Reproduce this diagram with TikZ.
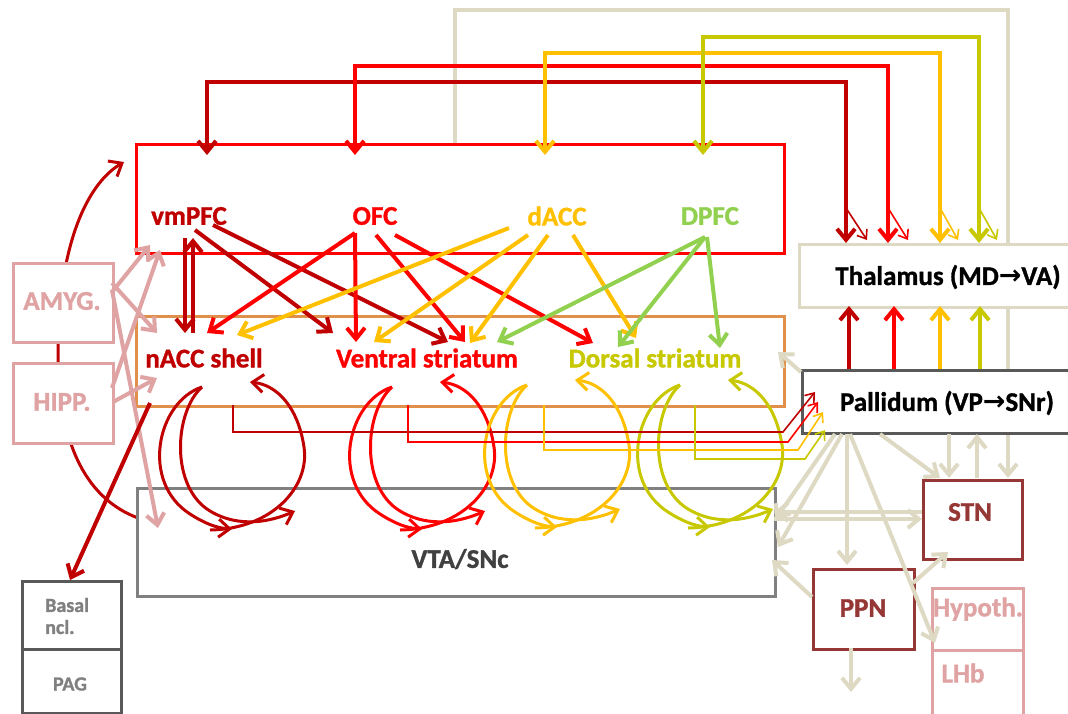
\documentclass[tikz,border=0pt]{standalone}
\usepackage{fontspec}
\setmainfont{Carlito}[BoldFeatures={FakeBold=1.2}]
\newfontfamily\dejavu{DejaVu Sans}
\usetikzlibrary{arrows.meta}
\pgfdeclarelayer{bg}
\pgfsetlayers{bg,main}
\definecolor{cdr}{HTML}{C00000}
\definecolor{cr}{HTML}{FF0000}
\definecolor{co}{HTML}{FFC000}
\definecolor{col}{HTML}{C8C800}
\definecolor{cg}{HTML}{92D050}
\definecolor{cbe}{HTML}{DDD9C3}
\definecolor{cpk}{HTML}{E0A3A3}
\definecolor{cbr}{HTML}{953735}
\definecolor{cst}{HTML}{E0904A}
\definecolor{cgy}{HTML}{808080}
\definecolor{cdg}{HTML}{595959}
\definecolor{ctxt}{HTML}{404040}
\tikzset{
  bx/.style={draw, fill=white, anchor=north west, inner sep=0pt},
  lbl/.style={font=\bfseries\fontsize{27}{32}\selectfont, inner sep=0pt},
  arr/.style={-{Straight Barb[length=11pt,width=18pt]}},
  arrb/.style={{Straight Barb[length=11pt,width=18pt]}-{Straight Barb[length=11pt,width=18pt]}},
  arrs/.style={-{Straight Barb[length=8pt,width=12pt]}},
  fat/.style={line width=4pt},
  mid/.style={line width=3pt},
  thn/.style={line width=1.6pt},
}
\begin{document}
\begin{tikzpicture}[x=1pt,y=-1pt]
\useasboundingbox (0,0) rectangle (1068,713);
\clip (0,0) rectangle (1068,713);

% ---------- background connectors ----------
\begin{pgfonlayer}{bg}
\fill[white] (0,0) rectangle (1068,713);
\draw[cbe, fat, arr] (455,143) coordinate (gtop) -- (455,10) -- (1008,10) -- (1008,478) coordinate (gend);
\draw[cdr, mid, arr] (138,518) coordinate (arcs) .. controls (90,500) and (58,450) .. (58,352)
   .. controls (58,250) and (85,185) .. (124,162) coordinate (arce);
\end{pgfonlayer}

% ---------- boxes ----------
\node[bx, draw=cr, line width=2.5pt, minimum width=648pt, minimum height=109pt, fill=none] (cortex) at (135,143) {};
\node[bx, draw=cst, line width=2.5pt, minimum width=648pt, minimum height=90pt, fill=none] (striatum) at (135,315) {};
\node[bx, draw=cgy, line width=2.5pt, minimum width=638pt, minimum height=108pt, fill=none] (vta) at (136,487) {};
\node[bx, draw=cbe, line width=3pt, minimum width=290pt, minimum height=63pt] (thal) at (798,243) {};
\node[bx, draw=cdg, line width=3pt, minimum width=290pt, minimum height=63pt] (pall) at (801,369) {};
\node[bx, draw=cbr, line width=3pt, minimum width=99pt, minimum height=79pt] (stnbox) at (922,479) {};
\node[bx, draw=cbr, line width=3pt, minimum width=101pt, minimum height=80pt] (ppnbox) at (812,568) {};
\node[bx, draw=cpk, line width=2.5pt, minimum width=91pt, minimum height=62pt] (hypbox) at (931,587) {};
\node[bx, draw=cpk, line width=2.5pt, minimum width=91pt, minimum height=66pt] (lhbbox) at (931,649) {};
\node[bx, draw=cpk, line width=3pt, minimum width=100pt, minimum height=79pt] (amybox) at (12,262) {};
\node[bx, draw=cpk, line width=3pt, minimum width=100pt, minimum height=80pt] (hipbox) at (12,362) {};
\node[bx, draw=cdg, line width=3pt, minimum width=99pt, minimum height=68pt] (basbox) at (21,580) {};
\node[bx, draw=cdg, line width=3pt, minimum width=99pt, minimum height=64pt] (pagbox) at (21,648) {};

% ---------- labels ----------
\node[lbl, text=cdr] (vmPFC) at (189,216) {vmPFC};
\node[lbl, text=cr] (OFC) at (375,216) {OFC};
\node[lbl, text=co] (dACC) at (557,216) {dACC};
\node[lbl, text=cg] (DPFC) at (710,216) {DPFC};
\node[lbl, text=cdr] (nacc) at (204,358) {nACC shell};
\node[lbl, text=cr] (vs) at (427,358) {Ventral striatum};
\node[lbl, text=col] (ds) at (655,358) {Dorsal striatum};
\node[lbl, text=ctxt] (vtal) at (460,559) {VTA/SNc};
\node[lbl, text=black] (thall) at (948,277) {Thalamus (MD{\dejavu\bfseries →}VA)};
\node[lbl, text=black] (palll) at (947,403) {Pallidum (VP{\dejavu\bfseries →}SNr)};
\node[lbl, text=cbr] (stn) at (970,512) {STN};
\node[lbl, text=cbr] (ppn) at (863,608) {PPN};
\node[lbl, text=cpk] (hyp) at (978,609) {Hypoth.};
\node[lbl, text=cpk] (lhb) at (963,673) {LHb};
\node[lbl, text=cpk] (amy) at (62,301) {AMYG.};
\node[lbl, text=cpk] (hip) at (62,402) {HIPP.};
\node[font=\bfseries\fontsize{20}{22}\selectfont, text=cgy, align=left, inner sep=0pt, anchor=west] (bas) at (45,616) {Basal\\ncl.};
\node[font=\bfseries\fontsize{20}{22}\selectfont, text=cgy, inner sep=0pt] (pag) at (70,684) {PAG};

% ---------- thalamo-cortical routed arrows ----------
\draw[cdr, fat, arrb] (207,155) -- (207,82) -- (846,82) -- (846,243);
\draw[cr, fat, arrb] (355,155) -- (355,66) -- (888,66) -- (888,243);
\draw[co, fat, arrb] (545,155) -- (545,53) -- (940,53) -- (940,243);
\draw[col, fat, arrb] (703,155) -- (703,37) -- (979,37) -- (979,243);
\draw[cdr, thn, arrs] (846,208) -- (867,240);
\draw[cr, thn, arrs] (888,208) -- (908,240);
\draw[co, thn, arrs] (940,208) -- (958,240);
\draw[col, thn, arrs] (979,208) -- (997,240);

% ---------- pallidum -> thalamus ----------
\draw[cdr, fat, arr] (849,369) -- (849,306);
\draw[cr, fat, arr] (894,369) -- (894,306);
\draw[co, fat, arr] (940,369) -- (940,306);
\draw[col, fat, arr] (980,369) -- (980,306);

% ---------- cortex -> striatum ----------
\draw[cdr, fat, arr] (185,238) -- (185,333);
\draw[cdr, fat, arr] (193,333) -- (193,238);
\draw[cdr, fat, arr] (195,230) -- (333,333);
\draw[cdr, fat, arr] (213,225) -- (448,342);
\draw[cr, fat, arr] (355,233) -- (207,333);
\draw[cr, fat, arr] (355,233) -- (356,342);
\draw[cr, fat, arr] (376,235) -- (465,342);
\draw[cr, fat, arr] (395,235) -- (593,343);
\draw[co, fat, arr] (509,228) -- (237,335);
\draw[co, fat, arr] (528,235) -- (374,342);
\draw[co, fat, arr] (548,235) -- (470,343);
\draw[co, fat, arr] (573,235) -- (636,338);
\draw[cg, fat, arr] (705,237) -- (497,342);
\draw[cg, fat, arr] (705,237) -- (618,347);
\draw[cg, fat, arr] (707,237) -- (720,348);

% ---------- limbic inputs ----------
\draw[cpk, fat, arr] (112,292) -- (150,245);
\draw[cpk, fat, arr] (112,283) -- (157,333);
\draw[cpk, fat, arr] (112,290) -- (158,528);
\draw[cpk, fat, arr] (112,388) -- (160,250);
\draw[cpk, fat, arr] (113,402) -- (157,378);
\draw[cdr, fat, arr] (150,403) -- (70,580);

% ---------- striato-nigral spirals ----------
\foreach \tx/\ty/\cc in {202/387/cdr, 392/387/cr, 527/385/co, 680/385/col}{
  \begin{scope}[shift={(\tx,\ty)}]
    \draw[\cc, mid, arr] (0,0) .. controls (-45,15) and (-62,95) .. (-12,127)
        .. controls (2,136) and (14,141) .. (30,142);
    \draw[\cc, mid, arr] (0,0) .. controls (-28,25) and (-32,100) .. (8,124)
        .. controls (38,142) and (70,134) .. (93,124);
    \draw[\cc, mid, arr] (8,143) .. controls (70,142) and (108,100) .. (102,60)
        .. controls (96,20) and (75,-2) .. (48,-5);
  \end{scope}
}

% ---------- striatum -> pallidum (thin) ----------
\draw[cdr, thn, arrs] (233,405) -- (233,432) -- (783,432) -- (815,392);
\draw[cr, thn, arrs] (408,405) -- (408,442) -- (788,442) -- (818,402);
\draw[co, thn, arrs] (544,405) -- (544,450) -- (798,450) -- (823,412);
\draw[col, thn, arrs] (695,405) -- (695,459) -- (805,459) -- (825,430);

% ---------- basal ganglia gray connections ----------
\draw[cbe, fat, arr] (801,372) -- (778,352);
\draw[cbe, fat, arr] (847,434) -- (847,565);
\draw[cbe, fat, arr] (842,434) -- (778,547);
\draw[cbe, fat, arr] (835,434) -- (775,520);
\draw[cbe, fat, arr] (850,434) -- (935,643);
\draw[cbe, fat, arr] (880,434) -- (940,478);
\draw[cbe, fat, arr] (949,434) -- (949,478);
\draw[cbe, fat, arr] (977,478) -- (977,434);
\draw[cbe, fat, arr] (922,512) -- (774,512);
\draw[cbe, fat, arr] (774,519) -- (922,519);
\draw[cbe, fat, arr] (812,597) -- (772,560);
\draw[cbe, fat, arr] (913,583) -- (948,552);
\draw[cbe, fat, arr] (851,648) -- (851,692);
\end{tikzpicture}
\end{document}
